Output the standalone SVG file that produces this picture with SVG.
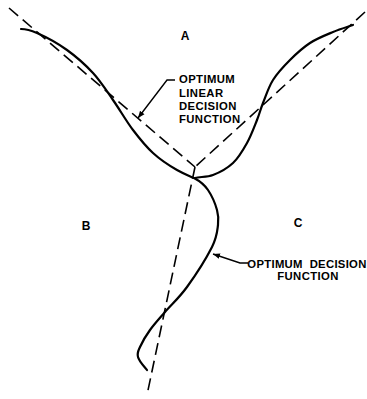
<svg xmlns="http://www.w3.org/2000/svg" width="367" height="399" viewBox="0 0 367 399">
<style>
.dash{fill:none;stroke:#000;stroke-width:1.6;stroke-dasharray:12 6}
.curve{fill:none;stroke:#000;stroke-width:2.2;stroke-linecap:round}
.lead{fill:none;stroke:#000;stroke-width:1.4}
.lbl{font-family:"Liberation Sans",Arial,sans-serif;font-weight:bold;font-size:11.3px;fill:#000}
.big{font-family:"Liberation Sans",Arial,sans-serif;font-weight:bold;font-size:12px;fill:#000}
</style>
<defs>
<marker id="ah" viewBox="0 0 10 10" refX="10" refY="5" markerWidth="7" markerHeight="7" orient="auto" markerUnits="userSpaceOnUse">
<path d="M0,1 L10,5 L0,9 Z" fill="#000"/>
</marker>
</defs>
<rect width="367" height="399" fill="#fff"/>
<g id="connectors">
<path class="dash" d="M9,8 L195,167"/>
<path class="dash" d="M365,12 L195,167"/>
<path class="dash" d="M195,167 L147,395"/>
<path id="optimum-curve" class="curve" d="M21,29 C24.5,29 29.5,29.7 37,33 C44.5,36.3 57.7,43.3 67,50 C76.3,56.7 85.3,64.7 93,73 C100.7,81.3 106.3,90.5 113,100 C119.7,109.5 126.3,121.2 133,130 C139.7,138.8 145.7,146.3 153,153 C160.3,159.7 170,166 177,170 C184,174 188.8,175.7 194,178 C200.2,181.3 204.3,184.5 208,190 C211.7,195.5 215.3,203.7 217,210 C218.7,215.8 218.8,218.8 218,225 C217.2,231.2 217.2,236.7 212,247 C206.8,257.3 194.8,276.2 187,287 C179.2,297.8 171.2,304.8 165,312 C158.8,319.2 154.2,324.2 150,330 C145.8,335.8 142,342.5 140,347 C138,351.5 136.8,353.2 138,357 C139.2,361.8 145.5,367.8 147,370"/>
<path class="curve" d="M195,178 C199.7,176.7 207,177.3 213,175 C219,172.7 227.3,168.3 233,163 C238.7,157.7 243,150.2 247,143 C251,135.8 254.3,126.7 257,120 C259.7,113.3 260.3,109.7 263,103 C265.7,96.3 268.5,87.2 273,80 C277.5,72.8 283.8,66.2 290,60 C296.2,53.8 302.8,47.7 310,43 C317.2,38.3 325.8,35 333,32 C340.2,29 349.7,26.2 353,25"/>
<path class="lead" d="M175,80 L167,80 L138,118" marker-end="url(#ah)"/>
<path class="lead" d="M248,263 L240,263 L213,254" marker-end="url(#ah)"/>
</g>
<g id="label-A"><text class="big" x="185" y="40" text-anchor="middle">A</text></g>
<g id="label-B"><text class="big" x="86" y="230" text-anchor="middle">B</text></g>
<g id="label-C"><text class="big" x="298" y="227" text-anchor="middle">C</text></g>
<g id="label-linear">
<text class="lbl" x="179" y="83" letter-spacing="0.4">OPTIMUM</text>
<text class="lbl" x="179" y="97" letter-spacing="0.4">LINEAR</text>
<text class="lbl" x="179" y="110" letter-spacing="0.4">DECISION</text>
<text class="lbl" x="179" y="123" letter-spacing="0.4">FUNCTION</text>
</g>
<g id="label-optimum">
<text class="lbl" x="307" y="268" text-anchor="middle" letter-spacing="0.3" xml:space="preserve">OPTIMUM  DECISION</text>
<text class="lbl" x="308" y="280" text-anchor="middle" letter-spacing="0.4">FUNCTION</text>
</g>
</svg>
